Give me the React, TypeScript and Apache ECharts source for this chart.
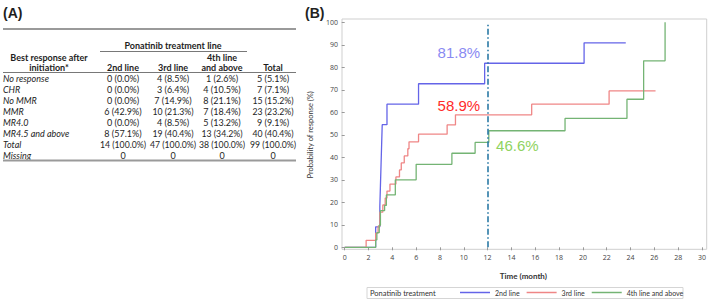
import React, { useEffect, useRef } from "react";
import * as echarts from "echarts";

// ---------- Table (A) data ----------
const tableTitle = "Ponatinib treatment line";
const rowHeader = ["Best response after", "initiation*"];
const columnHeaders = [["", "2nd line"], ["", "3rd line"], ["4th line", "and above"], ["", "Total"]];
const responseCategories = ["No response", "CHR", "No MMR", "MMR", "MR4.0", "MR4.5 and above", "Total", "Missing"];
const col2ndLine = ["0 (0.0%)", "0 (0.0%)", "0 (0.0%)", "6 (42.9%)", "0 (0.0%)", "8 (57.1%)", "14 (100.0%)", "0"];
const col3rdLine = ["4 (8.5%)", "3 (6.4%)", "7 (14.9%)", "10 (21.3%)", "4 (8.5%)", "19 (40.4%)", "47 (100.0%)", "0"];
const col4thLine = ["1 (2.6%)", "4 (10.5%)", "8 (21.1%)", "7 (18.4%)", "5 (13.2%)", "13 (34.2%)", "38 (100.0%)", "0"];
const colTotal = ["5 (5.1%)", "7 (7.1%)", "15 (15.2%)", "23 (23.2%)", "9 (9.1%)", "40 (40.4%)", "99 (100.0%)", "0"];

// ---------- Chart (B) data ----------
const seriesNames = ["2nd line", "3rd line", "4th line and above"];
const months2nd = [0, 2.6, 2.95, 3.0, 3.05, 3.1, 3.15, 3.55, 6.2, 11.75, 20.1, 23.6];
const prob2nd = [0, 9.1, 18.2, 27.3, 36.4, 45.5, 54.5, 63.6, 72.7, 81.8, 90.9, 90.9];
const months3rd = [0, 1.8, 2.6, 2.8, 2.95, 3.2, 3.4, 3.55, 3.8, 4.3, 4.6, 4.75, 5.0, 5.3, 5.4, 6.2, 8.6, 9.3, 15.7, 22.2, 26.1];
const prob3rd = [0, 3.1, 6.3, 9.4, 15.6, 18.8, 21.9, 25.0, 28.1, 31.3, 34.4, 37.5, 40.6, 43.8, 46.9, 50.3, 54.4, 58.9, 63.6, 69.5, 69.5];
const months4th = [0, 2.6, 2.7, 2.9, 3.0, 3.35, 3.5, 4.25, 6.0, 9.0, 10.95, 12.1, 18.5, 23.7, 25.1, 26.9];
const prob4th = [0, 3.3, 6.5, 9.8, 16.3, 18.6, 23.3, 30.0, 36.9, 41.8, 46.6, 51.8, 57.3, 65.8, 82.9, 100];
const landmarkMonth = 12;
const landmarkValues = [81.8, 58.9, 46.6];
const xTicks = { min: 0, max: 30, interval: 2 };
const yTicks = { min: 0, max: 100, interval: 10 };

const lineColors = ["#6464e8", "#ef8686", "#74b474"];
const labelColors = ["#8a8af2", "#ff2b2b", "#8fd35f"];

const TF = "Lato, 'Open Sans', sans-serif";

function buildTable(): any[] {
  const els: any[] = [];
  const txt = (x: number, y: number, text: string, opts: any = {}) =>
    els.push({
      type: "text",
      x,
      y,
      silent: true,
      style: {
        text,
        fill: "#1e1e1e",
        fontFamily: TF,
        fontSize: 9,
        align: "center",
        verticalAlign: "middle",
        ...opts,
      },
    });
  const ln = (x1: number, y1: number, x2: number, y2: number, stroke: string, lineWidth: number) =>
    els.push({ type: "line", silent: true, shape: { x1, y1, x2, y2 }, style: { stroke, lineWidth } });

  txt(3, 13, "(A)", { align: "left", fontSize: 14, fontWeight: "bold", fontFamily: "'Liberation Sans', Arial, sans-serif" });
  ln(3, 29, 296, 29, "#9a9a9a", 2);
  txt(173, 45, tableTitle, { fontWeight: "bold" });
  ln(100, 51.5, 247, 51.5, "#555", 0.8);
  txt(49, 57, rowHeader[0], { fontWeight: "bold" });
  txt(49, 67.5, rowHeader[1], { fontWeight: "bold" });
  const colX = [123, 173, 222, 273];
  columnHeaders.forEach((h, i) => {
    if (h[0]) txt(colX[i], 57, h[0], { fontWeight: "bold" });
    txt(colX[i], 67.5, h[1], { fontWeight: "bold" });
  });
  ln(3, 72.5, 296, 72.5, "#555", 0.8);
  const cols = [col2ndLine, col3rdLine, col4thLine, colTotal];
  responseCategories.forEach((cat, r) => {
    const y = 78.7 + r * 10.9;
    txt(3, y, cat, { align: "left", fontStyle: "italic" });
    cols.forEach((c, i) => txt(colX[i], y, c[r], { fontSize: c[r].length > 9 ? 8.7 : 9 }));
  });
  ln(3, 160.5, 296, 160.5, "#9a9a9a", 2);
  return els;
}

export default function App() {
  const ref = useRef<HTMLDivElement>(null);
  useEffect(() => {
    if (!ref.current) return;
    const chart = echarts.init(ref.current, undefined, { renderer: "svg" });
    const monthsList = [months2nd, months3rd, months4th];
    const probList = [prob2nd, prob3rd, prob4th];
    const labelPos = [
      { position: "left", distance: 7.5, offset: [0, -11] },
      { position: "left", distance: 7.5, offset: [0, -9] },
      { position: "right", distance: 8.5, offset: [0, 3.5] },
    ];
    const series: any[] = seriesNames.map((name, i) => ({
      name,
      type: "line",
      step: "end",
      symbol: "none",
      data: monthsList[i].map((m, k) => [m, probList[i][k]]),
      lineStyle: { color: lineColors[i], width: 1.3 },
      itemStyle: { color: lineColors[i] },
      z: 3,
      markPoint: {
        symbol: "circle",
        symbolSize: 0,
        silent: true,
        data: [{ coord: [landmarkMonth, landmarkValues[i]], value: landmarkValues[i] }],
        label: {
          show: true,
          formatter: "{c}%",
          color: labelColors[i],
          fontSize: 15,
          fontFamily: "'Liberation Sans', Arial, sans-serif",
          ...labelPos[i],
        },
      },
      markLine:
        i === 0
          ? {
              silent: true,
              symbol: "none",
              label: { show: false },
              lineStyle: { color: "#2b7aa6", width: 1.6, type: [6, 2.5, 1.5, 2.5] },
              data: [{ xAxis: landmarkMonth }],
            }
          : undefined,
    }));

    const axisLabel = { fontSize: 7, color: "#444", fontFamily: "'Open Sans', sans-serif" };
    chart.setOption({
      animation: false,
      grid: { left: 344.7, top: 22.3, width: 359.3, height: 225, containLabel: false },
      xAxis: {
        type: "value",
        ...xTicks,
        offset: 2,
        name: "Time (month)",
        nameLocation: "middle",
        nameGap: 23,
        nameTextStyle: { fontSize: 8, color: "#333", fontWeight: "bold", fontFamily: TF },
        axisLine: { show: false },
        axisTick: { show: true, length: 3, lineStyle: { color: "#999" } },
        axisLabel: { ...axisLabel, margin: 5 },
        splitLine: { show: false },
      },
      yAxis: {
        type: "value",
        ...yTicks,
        offset: 2.7,
        name: "Probability of response (%)",
        nameLocation: "middle",
        nameGap: 28,
        nameRotate: 90,
        nameTextStyle: { fontSize: 7.5, color: "#333", fontFamily: TF },
        axisLine: { show: false },
        axisTick: { show: true, length: 3, lineStyle: { color: "#999" } },
        axisLabel: { ...axisLabel, margin: 4 },
        splitLine: { show: false },
      },
      legend: {
        data: seriesNames,
        left: 460,
        top: 289,
        padding: 0,
        itemWidth: 30,
        itemHeight: 1.5,
        itemGap: 7,
        icon: "rect",
        textStyle: { fontSize: 7, color: "#333", fontFamily: TF, padding: [0, 0, 0, 0] },
      },
      graphic: [
        ...buildTable(),
        {
          type: "text",
          x: 305,
          y: 13,
          silent: true,
          style: { text: "(B)", fontSize: 14, fontWeight: "bold", fill: "#222", fontFamily: "'Liberation Sans', Arial, sans-serif", verticalAlign: "middle" },
        },
        {
          type: "rect",
          silent: true,
          shape: { x: 342, y: 19, width: 364.7, height: 230.3 },
          style: { fill: "none", stroke: "#cfcfcf", lineWidth: 1 },
        },
        {
          type: "rect",
          silent: true,
          shape: { x: 367, y: 287.5, width: 316, height: 11 },
          style: { fill: "none", stroke: "#d5d5d5", lineWidth: 1 },
        },
        {
          type: "text",
          x: 370,
          y: 293,
          silent: true,
          style: { text: "Ponatinib treatment", fontSize: 7.5, fill: "#333", fontFamily: TF, verticalAlign: "middle" },
        },
      ],
      series,
    });
    return () => chart.dispose();
  }, []);
  return <div ref={ref} style={{ position: "fixed", left: 0, top: 0, width: 709, height: 303, background: "#fff" }} />;
}
